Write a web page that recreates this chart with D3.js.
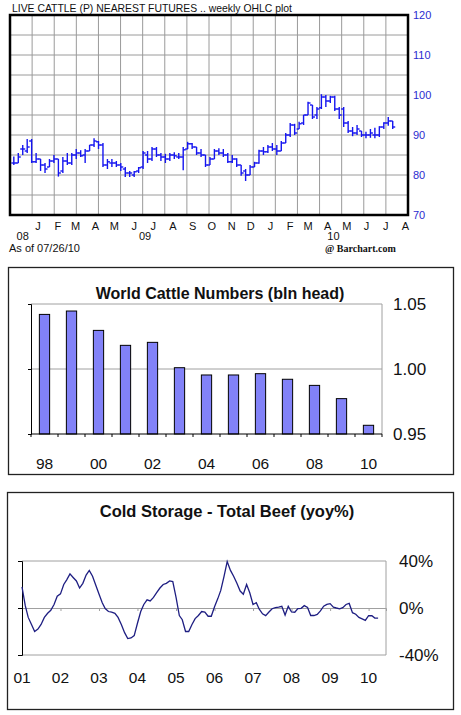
<!DOCTYPE html>
<html lang="en">
<head>
    <meta charset="UTF-8">
    <title>Cattle charts</title>
    <script src="https://d3js.org/d3.v7.min.js"></script>
    <style type="text/css">
        body { margin: 0; background: #fff; }
        svg { display: block; font-family: "Liberation Sans", Arial, sans-serif; }
    </style>
</head>
<body>
    <div id="chartArea"></div>
    <script type="text/javascript">
        // ---- panel 1: live cattle weekly OHLC ----
        var firstWeek = new Date(2008, 11, 8);
        var opens = [83, 83, 86.5, 86, 88.5, 83.3, 84, 82.5, 82, 83.5, 84, 81, 83.5, 83, 85, 85.5, 85, 86, 87.5, 88.3,
            87.5, 82.5, 83, 83, 82.5, 81.5, 80.5, 80, 81, 82, 85, 84, 86.5, 85, 84.5, 84, 85, 84.5, 84.5, 86.5,
            87.8, 87, 85.5, 85, 82.5, 84, 86, 85.5, 85, 83.3, 84, 82.5, 81, 80, 82, 83, 86, 85.8, 87, 86.5,
            86, 88, 90, 92.5, 91.5, 93, 95, 97.5, 95, 96.8, 99.5, 98.5, 99.5, 96.5, 96.5, 93, 91, 90.5, 91, 90,
            90, 90, 90, 92, 93, 93.5];
        var highs = [84.6, 85.5, 87.5, 89, 89, 85.5, 84, 83, 84, 85, 84, 84.5, 85.5, 85.5, 86.5, 86.2, 86.5, 87.5, 89.2, 88.5,
            88, 84, 84, 83.5, 83, 82, 81, 81, 82, 86, 86, 87, 87, 85.5, 85.3, 85.5, 85.7, 85.5, 87, 88.3,
            88, 87, 86.5, 85, 84.5, 86.5, 86.7, 86.5, 85.5, 85, 84.2, 82.5, 81.5, 82.5, 83.3, 86.3, 87, 87.5, 88, 87.5,
            88.5, 90.5, 93, 92.8, 93.3, 95, 98.3, 97.5, 97, 100.2, 100, 99.8, 99.8, 97, 97, 93.5, 92, 92.5, 91, 90.8,
            91.5, 91.8, 92.2, 93.2, 94.5, 93.5];
        var lows = [82.5, 83, 85, 85.5, 83, 83, 81, 80.5, 82, 83, 79.6, 80.5, 82.5, 82.5, 84, 84.5, 83, 86, 87, 86.5,
            82, 81.5, 82, 82, 81, 79.5, 79.5, 79.5, 80.5, 81.5, 83, 83.5, 84.5, 83.5, 83, 83.5, 84, 84, 81.2, 86.5,
            86.5, 85, 84.5, 82, 82.5, 84, 85, 84.5, 83, 83, 82, 79.8, 78.5, 80, 82, 82.8, 85, 85.5, 86, 85,
            86, 88, 89.5, 90, 91.5, 92.5, 95, 94, 94, 96.5, 97, 98, 96, 94, 92, 90.5, 89.7, 90, 89.5, 89.2,
            89.3, 89.2, 89.5, 91.5, 92.3, 91.5];
        var closes = [83, 84.5, 86.5, 87, 83.3, 84, 82.5, 81.5, 83.5, 84, 80.5, 83.5, 83, 85, 85.5, 84.8, 86, 87.5, 88.5, 87.5,
            82.5, 83.3, 83, 82.5, 82, 80.5, 80.5, 80.8, 81.8, 85.5, 84, 86.5, 85, 84.5, 84, 85, 84.8, 84.5, 86.3, 87.8,
            87, 85.5, 85, 82.5, 84, 86, 85.5, 85, 83.3, 84, 82.5, 80.5, 80, 82, 83, 86, 85.8, 87, 86.5, 86,
            88, 90, 92.5, 90.5, 92.8, 95, 98, 94.5, 96.5, 99.5, 98.5, 99.5, 96.5, 95, 93, 91, 90.5, 91.5, 90, 90,
            90.5, 90, 92, 93, 93.5, 92];
        var priceTicks = [70, 80, 90, 100, 110, 120];
        var monthLabels = ["J", "F", "M", "A", "M", "J", "J", "A", "S", "O", "N", "D",
            "J", "F", "M", "A", "M", "J", "J", "A"];
        var yearLabels = ["08", "09", "10"];
        var yearDates = ["2008-12-22", "2009-07-02", "2010-04-24"];

        // ---- panel 2: world cattle numbers ----
        var cattleYears = ["98", "99", "00", "01", "02", "03", "04", "05", "06", "07", "08", "09", "10"];
        var cattleValues = [1.042, 1.0446, 1.0297, 1.0182, 1.0205, 1.001, 0.9954, 0.9954, 0.9964, 0.9921, 0.9874, 0.9772, 0.9567];
        var cattleTicks = [0.95, 1.00, 1.05];

        // ---- panel 3: cold storage beef yoy% (monthly from Jan 2001) ----
        var firstMonth = new Date(2001, 0, 1);
        var beefYoy = [18, 2, -8, -14, -20, -18, -14, -8, -4.5, -2, 3, 10,
            12, 20, 24, 29, 26, 23, 17, 21, 28, 32, 27, 19.5,
            12, 4.5, -0.5, -3, -3.6, -4.5, -8, -14, -21, -26, -25.5, -23.5,
            -13, -3, 3, 7, 6, 9, 13, 17, 20, 21, 23, 22.5,
            9, -6.4, -10, -20, -20, -14, -9, -6.4, -3, -3.5, -7, -7,
            1, 8, 15, 27, 39.5, 32, 27, 21, 14.4, 11.7, 20, 13,
            3, 4.5, -1, -5, -6.5, -3.4, -0.6, 0.3, 0.8, 1.4, -6, 1.4,
            -3.4, -3.6, -0.5, -0.3, 2, 0.5, -6.4, -6.4, -5.5, -2.5, 1.5, 3,
            3.7, 0.7, 0, -0.7, 0.3, 3, 3.9, -4, -5.3, -8, -9.2, -10.5,
            -6.5, -6.6, -8.6, -8.6];
        var beefTicks = [-40, 0, 40];

        var W = 461, H = 715;
        var svg = d3.select('#chartArea').append('svg')
            .attr('width', W)
            .attr('height', H);

        // =============== panel 1 ===============
        var p1 = { left: 10, right: 408, top: 15, bottom: 215 };
        var x1 = d3.scaleTime()
            .domain([new Date(2008, 11, 2), new Date(2010, 7, 19)])
            .range([p1.left, p1.right]);
        var y1 = d3.scaleLinear()
            .domain([70, 120])
            .range([p1.bottom, p1.top]);

        var g1 = svg.append('g');

        // grid: 18 even columns, rows every 5
        var cols = d3.range(1, 18).map(function (i) {
            return p1.left + i * (p1.right - p1.left) / 18;
        });
        g1.selectAll('line.vgrid').data(cols).enter().append('line')
            .attr('x1', function (d) { return d; })
            .attr('x2', function (d) { return d; })
            .attr('y1', p1.top).attr('y2', p1.bottom)
            .attr('stroke', '#9a9a9a').attr('stroke-width', 1);
        g1.selectAll('line.hgrid').data(d3.range(75, 120, 5)).enter().append('line')
            .attr('x1', p1.left).attr('x2', p1.right)
            .attr('y1', function (d) { return y1(d); })
            .attr('y2', function (d) { return y1(d); })
            .attr('stroke', '#9a9a9a').attr('stroke-width', 1);

        var bars = closes.map(function (c, i) {
            return { date: d3.timeWeek.offset(firstWeek, i), o: opens[i], h: highs[i], l: lows[i], c: c };
        });
        var ohlc = g1.selectAll('g.ohlc').data(bars).enter().append('g')
            .attr('stroke', '#1515f0').attr('stroke-width', 1.4);
        ohlc.append('line')
            .attr('x1', function (d) { return x1(d.date); })
            .attr('x2', function (d) { return x1(d.date); })
            .attr('y1', function (d) { return y1(d.h); })
            .attr('y2', function (d) { return y1(d.l); });
        ohlc.append('line')
            .attr('x1', function (d) { return x1(d.date) - 2.5; })
            .attr('x2', function (d) { return x1(d.date); })
            .attr('y1', function (d) { return y1(d.o); })
            .attr('y2', function (d) { return y1(d.o); });
        ohlc.append('line')
            .attr('x1', function (d) { return x1(d.date); })
            .attr('x2', function (d) { return x1(d.date) + 2.5; })
            .attr('y1', function (d) { return y1(d.c); })
            .attr('y2', function (d) { return y1(d.c); });

        g1.append('rect')
            .attr('x', p1.left).attr('y', p1.top)
            .attr('width', p1.right - p1.left).attr('height', p1.bottom - p1.top)
            .attr('fill', 'none').attr('stroke', '#000').attr('stroke-width', 2.5);

        g1.append('text')
            .attr('x', 12).attr('y', 12)
            .attr('font-size', 11).attr('fill', '#111')
            .attr('textLength', 280).attr('lengthAdjust', 'spacingAndGlyphs')
            .text('LIVE CATTLE (P) NEAREST FUTURES .. weekly OHLC plot');

        var yAxis1 = d3.axisRight(y1).tickValues(priceTicks).tickSize(0).tickPadding(0);
        g1.append('g')
            .attr('transform', 'translate(413,0)')
            .call(yAxis1)
            .call(function (g) { g.select('.domain').remove(); })
            .selectAll('text')
            .attr('font-size', 11)
            .attr('font-family', '"Liberation Sans", Arial, sans-serif')
            .attr('fill', '#2b2bd0');

        g1.selectAll('text.month').data(monthLabels).enter().append('text')
            .attr('x', function (d, i) { return x1(d3.timeMonth.offset(new Date(2009, 0, 15), i)); })
            .attr('y', 230)
            .attr('text-anchor', 'middle')
            .attr('font-size', 11).attr('fill', '#111')
            .text(function (d) { return d; });
        g1.selectAll('text.year').data(yearLabels).enter().append('text')
            .attr('x', function (d, i) { return x1(new Date(yearDates[i] + 'T00:00')); })
            .attr('y', 240)
            .attr('text-anchor', 'middle')
            .attr('font-size', 11).attr('fill', '#111')
            .text(function (d) { return d; });
        g1.append('text')
            .attr('x', 9).attr('y', 252)
            .attr('font-size', 11).attr('fill', '#111')
            .text('As of 07/26/10');
        g1.append('text')
            .attr('x', 325).attr('y', 252)
            .attr('font-size', 10).attr('font-weight', 'bold')
            .attr('font-family', '"Liberation Serif", "DejaVu Serif", serif')
            .attr('fill', '#111')
            .text('@ Barchart.com');

        // =============== panel 2 ===============
        var g2 = svg.append('g');
        g2.append('rect')
            .attr('x', 8.5).attr('y', 267.5).attr('width', 445).attr('height', 207)
            .attr('fill', 'none').attr('stroke', '#222').attr('stroke-width', 1.3);
        g2.append('text')
            .attr('x', 220).attr('y', 298.5)
            .attr('text-anchor', 'middle')
            .attr('font-size', 16).attr('font-weight', 'bold').attr('fill', '#111')
            .text('World Cattle Numbers (bln head)');

        var p2 = { left: 31, right: 382, top: 304, bottom: 434 };
        var x2 = d3.scaleBand()
            .domain(cattleYears)
            .range([p2.left, p2.right])
            .paddingInner(0.62)
            .paddingOuter(0.31);
        var y2 = d3.scaleLinear()
            .domain([0.95, 1.05])
            .range([p2.bottom, p2.top]);

        // plot border top/right and 1.00 gridline
        g2.append('path')
            .attr('d', 'M' + p2.left + ',' + p2.top + 'H' + p2.right + 'V' + p2.bottom)
            .attr('fill', 'none').attr('stroke', '#a0a0a0');
        g2.append('line')
            .attr('x1', p2.left).attr('x2', p2.right)
            .attr('y1', y2(1.00)).attr('y2', y2(1.00))
            .attr('stroke', '#a0a0a0');

        g2.selectAll('rect.bar').data(cattleValues).enter().append('rect')
            .attr('class', 'bar')
            .attr('x', function (d, i) { return x2(cattleYears[i]); })
            .attr('y', function (d) { return y2(d); })
            .attr('width', x2.bandwidth())
            .attr('height', function (d) { return p2.bottom - y2(d); })
            .attr('fill', '#8282f8')
            .attr('stroke', '#000').attr('stroke-width', 1);

        // left axis
        g2.append('g')
            .attr('transform', 'translate(' + p2.left + ',0)')
            .call(d3.axisLeft(y2).tickValues(cattleTicks).tickSize(3).tickFormat(''))
            .call(function (g) { g.selectAll('path, line').attr('stroke', '#000'); });
        // bottom axis with ticks on category boundaries
        var step2 = x2.step();
        var bounds2 = cattleYears.map(function (d) { return x2(d) - (step2 - x2.bandwidth()) / 2; })
            .concat([p2.right]);
        g2.append('line')
            .attr('x1', p2.left).attr('x2', p2.right)
            .attr('y1', p2.bottom).attr('y2', p2.bottom)
            .attr('stroke', '#000').attr('stroke-width', 1.2);
        g2.selectAll('line.btick').data(bounds2).enter().append('line')
            .attr('x1', function (d) { return d; })
            .attr('x2', function (d) { return d; })
            .attr('y1', p2.bottom).attr('y2', p2.bottom + 3)
            .attr('stroke', '#000');
        g2.selectAll('text.cat').data(cattleYears.filter(function (d, i) { return i % 2 === 0; }))
            .enter().append('text')
            .attr('x', function (d) { return x2(d) + x2.bandwidth() / 2; })
            .attr('y', 469)
            .attr('text-anchor', 'middle')
            .attr('font-size', 15.5).attr('fill', '#111')
            .text(function (d) { return d; });
        g2.selectAll('text.val').data(cattleTicks).enter().append('text')
            .attr('x', 393)
            .attr('y', function (d) { return y2(d) + 6; })
            .attr('font-size', 17).attr('fill', '#111')
            .text(function (d) { return d3.format('.2f')(d); });

        // =============== panel 3 ===============
        var g3 = svg.append('g');
        g3.append('rect')
            .attr('x', 7.5).attr('y', 492.5).attr('width', 446).attr('height', 217)
            .attr('fill', 'none').attr('stroke', '#222').attr('stroke-width', 1.3);
        g3.append('text')
            .attr('x', 227).attr('y', 516.5)
            .attr('text-anchor', 'middle')
            .attr('font-size', 16.5).attr('font-weight', 'bold').attr('fill', '#111')
            .text('Cold Storage - Total Beef (yoy%)');

        var p3 = { left: 22, right: 386, top: 561, bottom: 655 };
        var x3 = d3.scaleTime()
            .domain([new Date(2001, 0, 1), new Date(2010, 5, 15)])
            .range([p3.left, p3.right]);
        var y3 = d3.scaleLinear()
            .domain([-40, 40])
            .range([p3.bottom, p3.top]);

        g3.append('path')
            .attr('d', 'M' + p3.left + ',' + p3.top + 'H' + p3.right + 'V' + p3.bottom + 'H' + p3.left)
            .attr('fill', 'none').attr('stroke', '#a0a0a0');
        var yearTicks = d3.timeYear.range(new Date(2001, 0, 1), new Date(2010, 1, 1));
        g3.append('g')
            .attr('transform', 'translate(0,' + y3(0) + ')')
            .call(d3.axisBottom(x3).tickValues(yearTicks).tickSize(3).tickFormat(''))
            .call(function (g) {
                g.select('.domain').attr('stroke', '#a0a0a0');
                g.selectAll('line').attr('stroke', '#a0a0a0');
            });
        g3.append('g')
            .attr('transform', 'translate(' + p3.left + ',0)')
            .call(d3.axisLeft(y3).tickValues(beefTicks).tickSize(4).tickFormat(''))
            .call(function (g) { g.selectAll('path, line').attr('stroke', '#000'); });

        var line3 = d3.line()
            .x(function (d, i) { return x3(d3.timeMonth.offset(firstMonth, i)); })
            .y(function (d) { return y3(d); });
        g3.append('path')
            .datum(beefYoy)
            .attr('d', line3)
            .attr('fill', 'none')
            .attr('stroke', '#1e1e82')
            .attr('stroke-width', 1.3);

        g3.selectAll('text.yr').data(yearTicks).enter().append('text')
            .attr('x', function (d) { return x3(d); })
            .attr('y', 683)
            .attr('text-anchor', 'middle')
            .attr('font-size', 15.5).attr('fill', '#111')
            .text(function (d) { return d3.timeFormat('%y')(d); });
        g3.selectAll('text.pct').data(beefTicks).enter().append('text')
            .attr('x', 399)
            .attr('y', function (d) { return y3(d) + 6; })
            .attr('font-size', 17).attr('fill', '#111')
            .text(function (d) { return d + '%'; });
    </script>
</body>
</html>
